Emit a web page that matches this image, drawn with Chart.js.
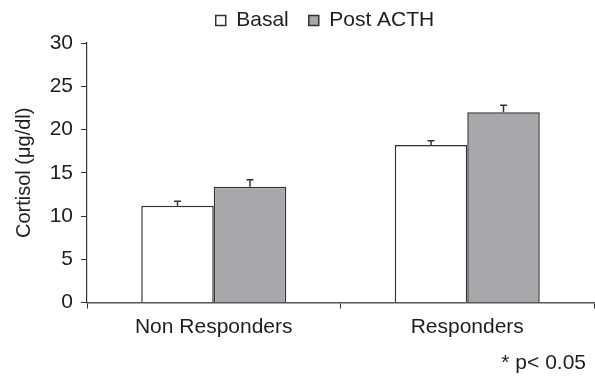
<!DOCTYPE html>
<html>
<head>
<meta charset="utf-8">
<script src="https://cdn.jsdelivr.net/npm/chart.js@4/dist/chart.umd.min.js"></script>
<style>
  html, body { margin: 0; padding: 0; background: #fff; }
  #wrap { width: 595px; height: 378px; }
</style>
</head>
<body>
<div id="wrap"><canvas id="chart" width="595" height="378"></canvas></div>
<script>
// data
const groups = ['Non Responders', 'Responders'];
const basal = [11.2, 18.2];
const basalErr = [0.5, 0.5];
const postActh = [13.4, 22.0];
const postActhErr = [0.8, 0.8];
const yTicks = [0, 5, 10, 15, 20, 25, 30];

const INK = '#1e1e1e';
const FONT = "'Liberation Sans', Arial, sans-serif";

// upward-only error bars with a small cap
const errorBars = {
    id: 'errorBars',
    afterDatasetsDraw(chart) {
        const ctx = chart.ctx;
        const y = chart.scales.y;
        chart.data.datasets.forEach((ds, di) => {
            const meta = chart.getDatasetMeta(di);
            meta.data.forEach((bar, i) => {
                const top = y.getPixelForValue(ds.data[i] + ds.errors[i]);
                ctx.save();
                ctx.strokeStyle = '#333';
                ctx.lineWidth = 1.5;
                ctx.beginPath();
                ctx.moveTo(bar.x, bar.y);
                ctx.lineTo(bar.x, top);
                ctx.moveTo(bar.x - 3.5, top);
                ctx.lineTo(bar.x + 3.5, top);
                ctx.stroke();
                ctx.restore();
            });
        });
    }
};

// wider gap between legend items without a taller legend block,
// then nudge legend and footnote to where the original puts them
const nudge = {
    id: 'nudge',
    afterInit(chart) {
        const lg = chart.legend;
        const fit = lg.fit;
        lg.fit = function () {
            fit.call(this);
            this.height -= 10;
        };
    },
    afterLayout(chart) {
        const lg = chart.legend;
        lg.left += 28; lg.right += 28;
        lg.top -= 12; lg.bottom -= 12;
        const t = chart.titleBlock;
        if (t) {
            t.left -= 8; t.right -= 8;
            t.top += 3; t.bottom += 3;
        }
    }
};

new Chart(document.getElementById('chart').getContext('2d'), {
    type: 'bar',
    data: {
        labels: groups,
        datasets: [{
            label: 'Basal',
            data: basal,
            errors: basalErr,
            backgroundColor: '#ffffff',
            borderColor: '#333',
            borderWidth: 1.5
        }, {
            label: 'Post ACTH',
            data: postActh,
            errors: postActhErr,
            backgroundColor: '#a7a8ab',
            borderColor: '#333',
            borderWidth: 1.5
        }]
    },
    options: {
        responsive: false,
        animation: false,
        devicePixelRatio: 1,
        layout: { padding: { left: 0, right: 1, top: 2, bottom: 0 } },
        datasets: {
            bar: { categoryPercentage: 0.572, barPercentage: 1.0 }
        },
        plugins: {
            legend: {
                position: 'top',
                labels: {
                    color: INK,
                    font: { family: FONT, size: 21 },
                    boxWidth: 10,
                    boxHeight: 10,
                    padding: 20
                }
            },
            title: {
                display: true,
                position: 'bottom',
                align: 'end',
                text: '* p< 0.05',
                color: INK,
                font: { family: FONT, size: 21, weight: 'normal' },
                padding: { top: 2, bottom: 5 }
            },
            tooltip: { enabled: false }
        },
        scales: {
            x: {
                offset: true,
                grid: {
                    display: true,
                    offset: true,
                    drawOnChartArea: false,
                    drawTicks: true,
                    tickLength: 6,
                    color: '#333'
                },
                border: { color: '#555', width: 1.5 },
                ticks: {
                    color: INK,
                    font: { family: FONT, size: 21 },
                    padding: 6
                }
            },
            y: {
                min: 0,
                max: 30,
                afterBuildTicks: axis => {
                    axis.ticks = yTicks.map(v => ({ value: v }));
                },
                afterFit: scale => { scale.width = 87; },
                grid: {
                    display: true,
                    drawOnChartArea: false,
                    tickLength: 6,
                    color: '#333'
                },
                border: { color: '#333', width: 1.2 },
                ticks: {
                    color: INK,
                    font: { family: FONT, size: 21 },
                    padding: 8
                },
                title: {
                    display: true,
                    text: 'Cortisol (μg/dl)',
                    color: INK,
                    font: { family: FONT, size: 20 },
                    padding: { top: 12, bottom: 0 }
                }
            }
        }
    },
    plugins: [errorBars, nudge]
});
</script>
</body>
</html>
